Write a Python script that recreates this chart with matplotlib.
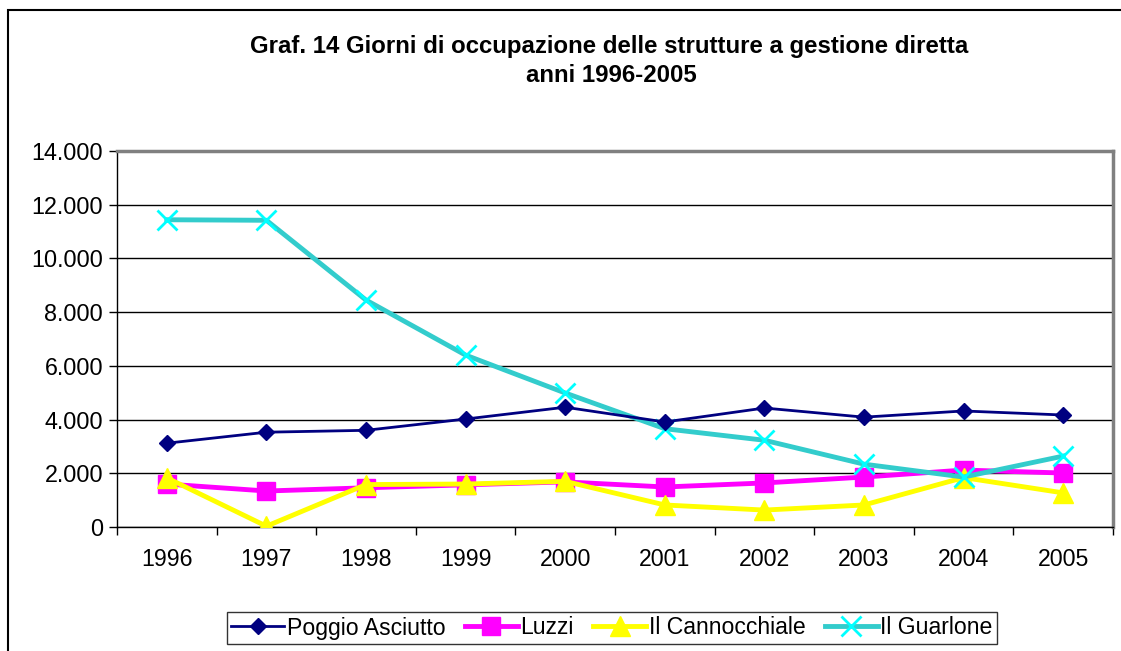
# -*- coding: utf-8 -*-

import matplotlib
matplotlib.use('Agg')
import matplotlib.pyplot as plt
import numpy as np
from matplotlib.patches import Rectangle

years = ['1996', '1997', '1998', '1999', '2000', '2001', '2002', '2003', '2004', '2005']
poggio = [3120, 3530, 3600, 4020, 4460, 3910, 4430, 4090, 4320, 4170]
luzzi = [1600, 1340, 1460, 1570, 1680, 1490, 1640, 1860, 2120, 2010]
cannocchiale = [1830, 30, 1580, 1600, 1700, 820, 630, 820, 1840, 1270]
guarlone = [11440, 11420, 8450, 6400, 4990, 3660, 3230, 2340, 1860, 2640]

plt.rcParams['font.family'] = ['Liberation Sans', 'DejaVu Sans']

fig = plt.figure(figsize=(11.21, 6.51), dpi=100)
ax = fig.add_axes([117 / 1121, 1 - 527 / 651, (1113 - 117) / 1121, (527 - 151) / 651])

x = np.arange(len(years))

# serie
ax.plot(x, poggio, color='#000080', lw=2, marker='D', ms=8, label='Poggio Asciutto', zorder=5)
ax.plot(x, luzzi, color='#FF00FF', lw=3.5, marker='s', ms=13, label='Luzzi', zorder=4)
ax.plot(x, cannocchiale, color='#FFFF00', lw=3.5, marker='^', ms=15, label='Il Cannocchiale', zorder=4)
ax.plot(x, guarlone, color='#33CCCC', lw=3.5, marker='x', ms=14, mew=2,
        mec='#00FFFF', label='Il Guarlone', zorder=4)

# assi
ax.set_xlim(-0.5, len(years) - 0.5)
ax.set_ylim(0, 14000)
ax.set_yticks(np.arange(0, 14001, 2000))
ax.set_yticklabels(['{:,}'.format(v).replace(',', '.') for v in range(0, 14001, 2000)])
ax.set_xticks(x)
ax.set_xticklabels(years)
ax.set_xticks(np.arange(-0.5, len(years), 1), minor=True)
ax.tick_params(axis='x', which='major', length=0, pad=15, labelsize=16.7)
ax.tick_params(axis='x', which='minor', length=6, width=1)
ax.tick_params(axis='y', length=6, width=1, labelsize=16.8, pad=4)
ax.yaxis.grid(True, color='black', lw=1)
ax.set_axisbelow(True)
for s in ['top', 'right']:
    ax.spines[s].set_color('#808080')
    ax.spines[s].set_linewidth(2.5)
for s in ['left', 'bottom']:
    ax.spines[s].set_color('black')
    ax.spines[s].set_linewidth(1)

# titolo
fig.text(609 / 1121, 1 - 46 / 651, 'Graf. 14 Giorni di occupazione delle strutture a gestione diretta',
         ha='center', va='center', fontsize=17.3, fontweight='bold')
fig.text(611 / 1121, 1 - 75 / 651, 'anni 1996-2005',
         ha='center', va='center', fontsize=17.3, fontweight='bold')

# legenda
leg = fig.legend(loc='center', bbox_to_anchor=(612 / 1121, 1 - 628 / 651), ncol=4,
                 fontsize=16.6, frameon=True, fancybox=False, edgecolor='black',
                 handlelength=2.3, handletextpad=0.1, columnspacing=0.85,
                 borderpad=0.2, borderaxespad=0)
leg.get_frame().set_linewidth(1)

# cornice
fig.patches.append(Rectangle((8 / 1121, -0.05), 1.2, (1 - 10 / 651) + 0.05,
                             transform=fig.transFigure, fill=False, ec='black', lw=1.5))

fig.savefig('out.png', dpi=100)
